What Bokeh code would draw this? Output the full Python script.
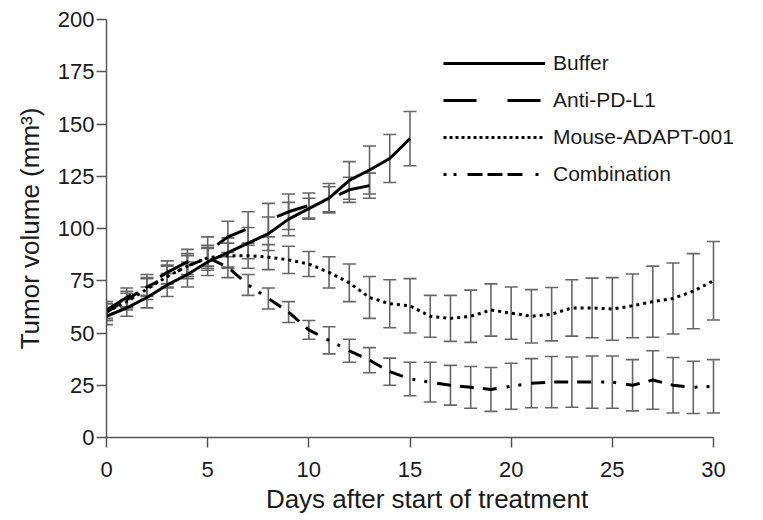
from bokeh.plotting import figure
from bokeh.models import ColumnDataSource, Whisker, TeeHead, Legend, LegendItem, FixedTicker, Range1d
from bokeh.embed import file_html
from bokeh.resources import INLINE

# ---- data ----
buffer_days = list(range(16))
buffer_mean = [58, 62, 67, 73, 78, 84, 88.5, 93, 97.5, 104.5, 109.5, 114.5, 123, 128, 133.5, 143]
buffer_err = [4, 4, 5, 5.5, 6, 6.5, 7, 7.5, 8, 8, 5, 7, 9, 11.5, 11.5, 13]

anti_days = list(range(14))
anti_mean = [61, 67, 73, 79, 84, 89, 96, 100, 104, 108, 111, 114, 118.5, 120.5]
anti_err = [4, 4.5, 5, 5.5, 6, 7, 7.5, 8, 8, 8.5, 6, 6, 6, 6]

adapt_days = list(range(31))
adapt_mean = [60, 65, 71, 77, 82, 86, 87, 87, 86.3, 85, 83, 79, 74, 67, 64, 63, 58, 57, 58, 61,
              59.5, 58, 59, 62, 62, 61.5, 63, 65, 66.5, 70, 75]
adapt_err = [4, 4, 5, 5.5, 6, 6, 6, 6, 6, 6.5, 6, 7.5, 9, 10, 11.5, 13, 10, 11, 12.5, 12.5,
             12.5, 12.75, 12.75, 13.5, 14.25, 15, 15.25, 17, 17, 18, 18.75]

comb_days = list(range(31))
comb_mean = [60, 66, 72, 77, 82, 86, 81.5, 73, 66.5, 60, 51.5, 46.5, 41.5, 37, 31.5, 28, 26.5, 25, 24, 23,
             24.5, 26, 26.5, 26.5, 26.5, 26.5, 25, 27.5, 25, 24, 24.5]
comb_err = [4, 4, 4.5, 5, 5, 5, 5, 5, 5, 5, 4.5, 6.5, 5.5, 6, 6.5, 8, 9.5, 9.5, 10, 10.5,
            11, 11.75, 12.25, 12, 12.5, 12.5, 12.25, 14, 13.25, 12.5, 12.75]

series_names = ["Buffer", "Anti-PD-L1", "Mouse-ADAPT-001", "Combination"]
x_ticks = [0, 5, 10, 15, 20, 25, 30]
y_ticks = [0, 25, 50, 75, 100, 125, 150, 175, 200]

FONT = "Liberation Sans"

# frame runs to the figure's right edge so the key is not clipped;
# the x axis line itself is bounded to 0..30
X_END = 30 * 641 / 607

p = figure(width=747, height=520, output_backend="svg", toolbar_location=None,
           x_range=Range1d(0, X_END), y_range=Range1d(0, 200),
           min_border_left=106, min_border_right=0, min_border_top=19, min_border_bottom=83)
p.outline_line_color = None
p.xgrid.visible = False
p.ygrid.visible = False
p.background_fill_color = "white"

for ax in (p.xaxis[0], p.yaxis[0]):
    ax.axis_line_color = "#555555"
    ax.axis_line_width = 1.5
    ax.major_tick_line_color = "#555555"
    ax.major_tick_line_width = 1.5
    ax.major_tick_out = 10
    ax.major_tick_in = 0
    ax.minor_tick_line_color = None
    ax.major_label_text_font = FONT
    ax.major_label_text_font_size = "22px"
    ax.major_label_text_color = "#1a1a1a"
    ax.axis_label_text_font = FONT
    ax.axis_label_text_font_size = "26px"
    ax.axis_label_text_font_style = "normal"
    ax.axis_label_text_color = "#1a1a1a"

p.xaxis.ticker = FixedTicker(ticks=x_ticks)
p.yaxis.ticker = FixedTicker(ticks=y_ticks)
p.xaxis.bounds = (0, 30)
p.xaxis.axis_label = "Days after start of treatment"
p.yaxis.axis_label = "Tumor volume (mm³)"
p.xaxis.major_label_standoff = 14
p.yaxis.major_label_standoff = 2
p.xaxis.axis_label_standoff = 4
p.yaxis.axis_label_standoff = 10

ERR_COLOR = "#666666"

def add_errors(days, mean, err):
    src = ColumnDataSource(dict(x=days,
                                lo=[m - e for m, e in zip(mean, err)],
                                hi=[m + e for m, e in zip(mean, err)]))
    w = Whisker(source=src, base="x", lower="lo", upper="hi", dimension="height",
                line_color=ERR_COLOR, line_width=1.6,
                upper_head=TeeHead(size=13, line_color=ERR_COLOR, line_width=1.6),
                lower_head=TeeHead(size=13, line_color=ERR_COLOR, line_width=1.6))
    p.add_layout(w)

add_errors(buffer_days, buffer_mean, buffer_err)
add_errors(anti_days, anti_mean, anti_err)
add_errors(adapt_days, adapt_mean, adapt_err)
add_errors(comb_days, comb_mean, comb_err)

styles = {
    "Buffer": dict(line_dash="solid"),
    "Anti-PD-L1": dict(line_dash="32 34", line_dash_offset=3),
    "Mouse-ADAPT-001": dict(line_dash="3 4"),
    "Combination": dict(line_dash="14 9 14 9 14 10 3 9 3 10"),
}

p.line(buffer_days, buffer_mean, line_color="black", line_width=3, **styles["Buffer"])
p.line(anti_days, anti_mean, line_color="black", line_width=3, **styles["Anti-PD-L1"])
p.line(adapt_days, adapt_mean, line_color="black", line_width=3, **styles["Mouse-ADAPT-001"])
p.line(comb_days, comb_mean, line_color="black", line_width=3, **styles["Combination"])

# key-only renderers placed outside the visible ranges, with dash phases matching the reference key
legend_styles = {
    "Buffer": dict(line_dash="solid"),
    "Anti-PD-L1": dict(line_dash="33 31"),
    "Mouse-ADAPT-001": dict(line_dash="3 3"),
    "Combination": dict(line_dash="3 7 3 11 15 5 15 5 15 13 3 10"),
}
items = []
for name in series_names:
    r = p.line([-50, -40], [-50, -50], line_color="black", line_width=3, **legend_styles[name])
    items.append(LegendItem(label=name, renderers=[r]))

legend = Legend(items=items, location=(337, 251), orientation="vertical",
                glyph_width=102, glyph_height=20, label_height=20, spacing=13,
                padding=0, margin=0, label_standoff=8,
                label_text_font=FONT, label_text_font_size="21px", label_text_color="#1a1a1a",
                border_line_color=None, background_fill_alpha=0)
p.add_layout(legend)

open("out.html", "w").write(file_html(p, INLINE))
